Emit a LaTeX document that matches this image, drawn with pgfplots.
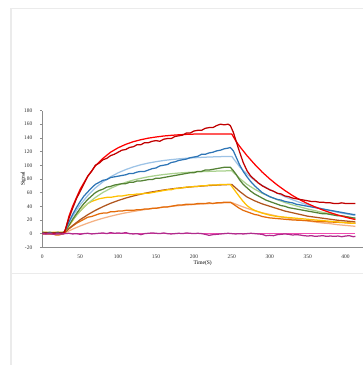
\documentclass[border=0pt]{standalone}
\usepackage{pgfplots}
\pgfplotsset{compat=1.18}
\usepackage{fontspec}
\setmainfont{Liberation Serif}
\definecolor{framegray}{HTML}{EBEBEB}
\definecolor{axgray}{HTML}{8C8C8C}
\definecolor{cDarkRed}{HTML}{C00000}
\definecolor{cRed}{HTML}{FF0000}
\definecolor{cBlue}{HTML}{2E75B6}
\definecolor{cLBlue}{HTML}{9DC3E6}
\definecolor{cDGreen}{HTML}{548235}
\definecolor{cLGreen}{HTML}{A9D18E}
\definecolor{cGold}{HTML}{FFC000}
\definecolor{cBrown}{HTML}{B0561E}
\definecolor{cOrange}{HTML}{E46C0A}
\definecolor{cPeach}{HTML}{F4B183}
\definecolor{cMagenta}{HTML}{B02B8C}
\definecolor{cPink}{HTML}{F24BB1}
\begin{document}
\begin{tikzpicture}
\useasboundingbox (0pt,0pt) rectangle (363pt,-365pt);
\draw[framegray, line width=1.5pt] (10pt,-8.5pt) -- (363pt,-8.5pt);
\draw[framegray, line width=1.5pt] (11pt,-8.5pt) -- (11pt,-365pt);
\draw[framegray, line width=1.2pt] (11pt,-273.3pt) -- (363pt,-273.3pt);
\begin{axis}[
  at={(42.3pt,-247.3pt)}, anchor=south west,
  scale only axis, width=320.7pt, height=136.8pt,
  xmin=0, xmax=423, ymin=-20, ymax=180,
  axis lines*=left, axis line style={-, axgray, line width=0.6pt},
  xtick={0,50,...,400}, ytick={-20,0,20,...,180},
  tick align=outside, major tick length=2.5pt,
  xtick style={draw=none}, ytick style={axgray, line width=0.6pt},
  /pgf/number format/assume math mode=true,
  ticklabel style={font=\fontsize{5.5}{6}\selectfont, text=black!80},
  yticklabel style={xshift=-4pt},
  xticklabel style={yshift=-2pt},
  xlabel={Time(S)}, ylabel={Signal},
  xlabel style={at={(axis description cs:0.5,0)}, anchor=center, yshift=-16pt, font=\fontsize{5.5}{6}\selectfont},
  ylabel style={at={(axis description cs:0,0.5)}, anchor=center, yshift=19pt, font=\fontsize{5.5}{6}\selectfont},
  every axis plot/.append style={line width=1.25pt, no markers, line join=round},
  clip=false,
]
% pink fit baseline
\addplot[cPink] coordinates {(0,0.5)(413,0.5)};
% peach fit
\addplot[cPeach] coordinates {(0,0)(28,0)(35,3.9)(40,6.5)(50,11.2)(60,15.4)(70,19.2)(80,22.5)(90,25.4)(100,28.1)(110,30.4)(120,32.4)(130,34.3)(140,35.9)(150,37.4)(160,38.7)(170,39.8)(180,40.9)(190,41.8)(200,42.6)(210,43.3)(220,43.9)(230,44.5)(240,45)(250,45.4)(260,41)(270,37)(280,33.5)(290,30.5)(300,28)(310,25.5)(320,23.5)(330,21.5)(340,20)(350,18.5)(360,17)(370,15.5)(380,14.5)(390,13)(400,12)(410,11)(413,10.5)};
% orange data
\addplot[cOrange] coordinates {(0,0)(5,0.5)(10,0)(15,-1)(18,-2)(22,-2)(25,-1)(28,0)(30,2)(35,7)(40,11)(45,15)(50,18)(55,21)(60,24)(65,25)(70,27)(75,29)(80,30)(85,30)(90,32)(95,32)(100,33)(105,33)(110,34)(115,34)(120,34)(125,35)(130,35)(135,36)(140,36)(145,37)(150,37)(155,38)(160,39)(165,39)(170,40)(175,41)(180,42)(185,42)(190,43)(195,43)(200,43)(205,44)(210,44)(215,44)(220,45)(225,44)(230,45)(235,45)(240,46)(245,46)(248,46)(252,43)(256,40)(260,37)(265,34)(270,32)(275,30)(280,28)(285,27)(290,25)(295,24)(300,23)(305,22.5)(310,22)(320,21)(330,20)(340,19.5)(350,19)(360,18)(370,17.5)(380,17)(390,16.5)(400,16)(410,15)(413,15)};
% brown fit
\addplot[cBrown] coordinates {(0,0)(28,0)(35,7.2)(40,11.9)(50,20.4)(60,27.7)(70,34)(80,39.5)(90,44.3)(100,48.4)(110,52)(120,55)(130,57.7)(140,60.1)(150,62)(160,63.8)(170,65.3)(180,66.6)(190,67.7)(200,68.7)(210,69.5)(220,70.3)(230,70.9)(240,71.5)(250,71.9)(260,62)(270,53.5)(280,48)(290,43.5)(300,40)(310,36.5)(320,33)(330,30.5)(340,28)(350,25.5)(360,24)(370,22.5)(380,21)(390,19.5)(400,18.5)(410,17.5)(413,17)};
% gold data
\addplot[cGold] coordinates {(0,2)(5,2)(10,1.5)(15,2)(20,2)(25,2)(28,2)(30,3)(35,11)(40,19)(45,27)(50,33)(55,39)(60,44)(65,47)(70,49)(75,51)(80,52)(85,53)(90,53)(95,54)(100,55)(105,55)(110,56)(115,57)(120,57)(125,58)(130,58)(135,59)(140,59)(145,60)(150,61)(155,62)(160,63)(165,64)(170,64)(175,66)(180,66)(185,67)(190,68)(195,68)(200,69)(205,69)(210,70)(215,70)(220,71)(225,71)(230,71)(235,72)(240,72)(245,72)(248,72)(252,66)(256,60)(260,54)(265,47)(270,41)(275,37)(280,34)(285,32)(290,30)(295,28.5)(300,27)(305,26)(310,25)(320,24)(330,23)(340,22)(350,21)(360,20)(370,19)(380,18)(390,17)(400,16)(410,15)(413,15)};
% light green fit
\addplot[cLGreen] coordinates {(0,0)(28,0)(35,12.1)(40,19.8)(50,33.2)(60,44)(70,52.9)(80,60.2)(90,66.1)(100,71)(110,75)(120,78.3)(130,80.9)(140,83.1)(150,84.9)(160,86.4)(170,87.6)(180,88.6)(190,89.4)(200,90.1)(210,90.6)(220,91)(230,91.4)(240,91.7)(250,91.9)(260,81)(270,72)(280,65)(290,59)(300,54)(310,49.5)(320,45.5)(330,42)(340,39)(350,36)(360,33.5)(370,31)(380,29)(390,27)(400,25)(410,23)(413,22.5)};
% dark green data
\addplot[cDGreen] coordinates {(0,2)(5,1.5)(10,2)(15,1)(20,2)(25,1.5)(28,2)(30,3)(35,12)(40,21)(45,29)(50,37)(55,44)(60,50)(65,55)(70,60)(75,63)(80,65)(85,68)(90,69)(95,71)(100,72)(105,73)(110,73)(115,75)(120,75)(125,77)(130,77)(135,78)(140,79)(145,79)(150,81)(155,81)(160,82)(165,83)(170,84)(175,85)(180,86)(185,87)(190,88)(195,89)(200,89)(205,91)(210,91)(215,93)(220,93)(225,94)(230,95)(235,96)(240,97)(245,97)(248,97)(252,92)(256,86)(260,79)(265,72)(270,67)(275,62)(280,58)(285,55)(290,52)(295,49)(300,47)(305,45)(310,43)(315,41)(320,40)(325,38)(330,37)(335,36)(340,35)(345,34)(350,33)(355,32)(360,31)(365,30)(370,29)(375,29)(380,28)(385,27)(390,26)(395,26)(400,25)(405,24)(410,23)(413,23)};
% light blue fit
\addplot[cLBlue] coordinates {(0,0)(28,0)(35,15.6)(40,25.4)(50,42.2)(60,55.7)(70,66.8)(80,75.7)(90,83)(100,88.9)(110,93.6)(120,97.5)(130,100.7)(140,103.2)(150,105.2)(160,106.9)(170,108.2)(180,109.3)(190,110.2)(200,110.9)(210,111.5)(220,112)(230,112.4)(240,112.7)(250,112.9)(260,98)(270,87)(280,78)(290,70.5)(300,64.5)(310,59)(320,54)(330,49.5)(340,45.5)(350,42)(360,39)(370,36)(380,33.5)(390,31)(400,29)(410,27)(413,26.5)};
% blue data
\addplot[cBlue] coordinates {(0,1)(5,0.5)(10,1)(15,0)(20,1)(25,0.5)(28,1)(30,4)(35,17)(40,28)(45,38)(50,47)(55,55)(60,61)(65,67)(70,72)(75,75)(80,78)(85,79)(90,82)(95,83)(100,84)(105,85)(110,86)(115,88)(120,88)(125,90)(130,91)(135,91)(140,93)(145,95)(150,96)(155,99)(160,100)(165,101)(170,104)(175,105)(180,107)(185,108)(190,109)(195,111)(200,112)(205,113)(210,116)(215,116)(220,118)(225,119)(230,121)(235,122)(240,124)(245,125)(248,126)(252,121)(256,111)(260,101)(265,91)(270,83)(275,76)(280,70)(285,65)(290,60)(295,57)(300,54)(305,52)(310,50)(315,49)(320,47)(325,46)(330,45)(335,43)(340,42)(345,41)(350,40)(355,39)(360,38)(365,37)(370,36)(375,35)(380,34)(385,33)(390,32)(395,31)(400,30)(405,29)(410,28)(413,28)};
% red fit
\addplot[cRed] coordinates {(0,0)(28,0)(30,3)(35,25)(40,40)(50,65)(60,84)(70,99)(80,110)(90,119)(100,125.5)(110,130.5)(120,134.4)(130,137.3)(140,139.6)(150,141.3)(160,142.7)(170,143.7)(180,144.5)(190,145.1)(200,145.5)(210,145.5)(220,145.5)(230,145.5)(240,145.5)(250,145.5)(255,136)(260,128)(265,121)(270,114)(280,101.5)(290,90)(300,80)(310,71)(320,63)(330,55.7)(340,49.4)(350,43.8)(360,38.9)(370,34.5)(380,30.6)(390,27.1)(400,24)(410,21.3)(413,20.5)};
% dark red data
\addplot[cDarkRed] coordinates {(0,0.5)(5,1)(10,0)(15,1)(20,0.5)(25,1)(28,1)(30,5)(35,22)(40,37)(45,51)(50,62)(55,73)(60,84)(65,91)(70,100)(75,103)(80,108)(85,110)(90,114)(95,116)(100,119)(105,122)(110,123)(115,126)(120,127)(125,130)(130,130)(135,133)(140,133)(145,135)(150,136)(155,135)(160,138)(165,139)(170,139)(175,142)(180,143)(185,144)(190,147)(195,147)(200,150)(205,151)(210,151)(215,154)(220,155)(225,155)(230,158)(235,160)(240,159)(245,160)(248,158)(252,148)(256,134)(260,120)(265,104)(270,92)(275,84)(280,79)(285,74)(290,70)(295,67)(300,64)(305,62)(310,59)(315,58)(320,55)(325,54)(330,52)(335,51)(340,50)(345,49)(350,48)(355,47)(360,47)(365,46)(370,46)(375,45)(380,45)(385,44)(390,44)(395,45)(400,44)(405,44)(410,44)(413,44)};
% magenta data
\addplot[cMagenta] coordinates {(0,0)(5,-0.5)(10,0.5)(15,-1)(20,0)(25,-0.5)(30,0)(35,0.5)(40,-0.5)(45,0)(50,-1)(55,0)(60,0.5)(65,-0.5)(70,0)(75,0.5)(80,1)(85,0)(90,1.5)(95,0.5)(100,1)(105,0.5)(110,1.5)(115,0)(120,-0.5)(125,0)(130,-1.5)(135,0)(140,0.5)(145,1)(150,0.5)(155,0)(160,1)(165,0)(170,-0.5)(175,0)(180,0.5)(185,0)(190,1)(195,0.5)(200,0)(205,0.5)(210,0)(215,-1)(220,-2.5)(225,-1.5)(230,-1)(235,-0.5)(240,0)(245,0.5)(250,0)(255,-0.5)(260,0)(265,-0.5)(270,0)(275,0.5)(280,0)(285,-0.5)(290,-1)(295,-3)(300,-2.5)(305,-3)(310,-1.5)(315,-1)(320,-0.5)(325,-1)(330,-2)(335,-1.5)(340,-2)(345,-3)(350,-3.5)(355,-3)(360,-4)(365,-3.5)(370,-3)(375,-4)(380,-3.5)(385,-4)(390,-3.5)(395,-4.5)(400,-3.5)(405,-3)(410,-4.5)(413,-4)};
\end{axis}
\end{tikzpicture}
\end{document}
